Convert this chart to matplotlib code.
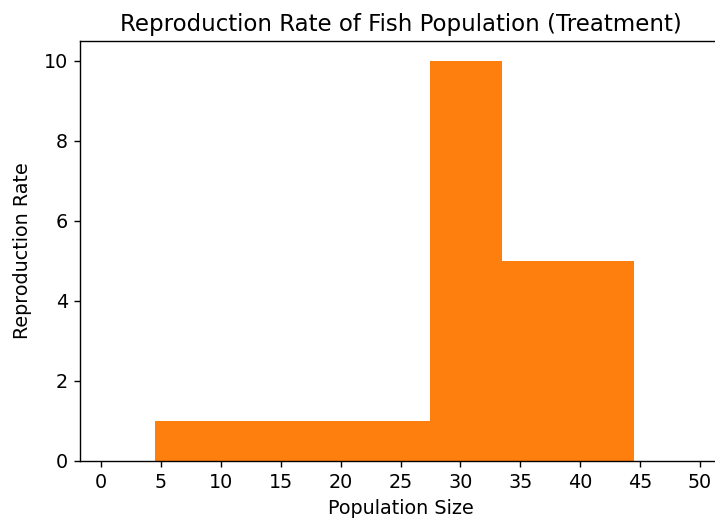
import numpy as np
import matplotlib
matplotlib.use("Agg")
import matplotlib.pyplot as plt

# Bin edges of population size and reproduction rate per bin
bin_edges = [4.5, 27.5, 33.5, 44.5]
reproduction_rates = [1, 10, 5]
x_ticks = [0, 5, 10, 15, 20, 25, 30, 35, 40, 45, 50]
y_ticks = [0, 2, 4, 6, 8, 10]

plt.rcParams['font.size'] = 11

fig = plt.figure(figsize=(5.72, 4.16), dpi=125)
ax = fig.add_axes([0.1119, 0.1135, 0.8965, 0.8077])

widths = np.diff(bin_edges)
ax.bar(bin_edges[:-1], reproduction_rates, width=widths, align='edge',
       color='#ff7f0e', linewidth=0)

ax.set_xlim(-1.75, 51.75)
ax.set_ylim(0, 10.5)
ax.set_xticks(x_ticks)
ax.set_yticks(y_ticks)
ax.set_title('Reproduction Rate of Fish Population (Treatment)', fontsize=13.2)
ax.set_xlabel('Population Size')
ax.set_ylabel('Reproduction Rate', labelpad=6.5)

fig.savefig('out.png', dpi=125)
